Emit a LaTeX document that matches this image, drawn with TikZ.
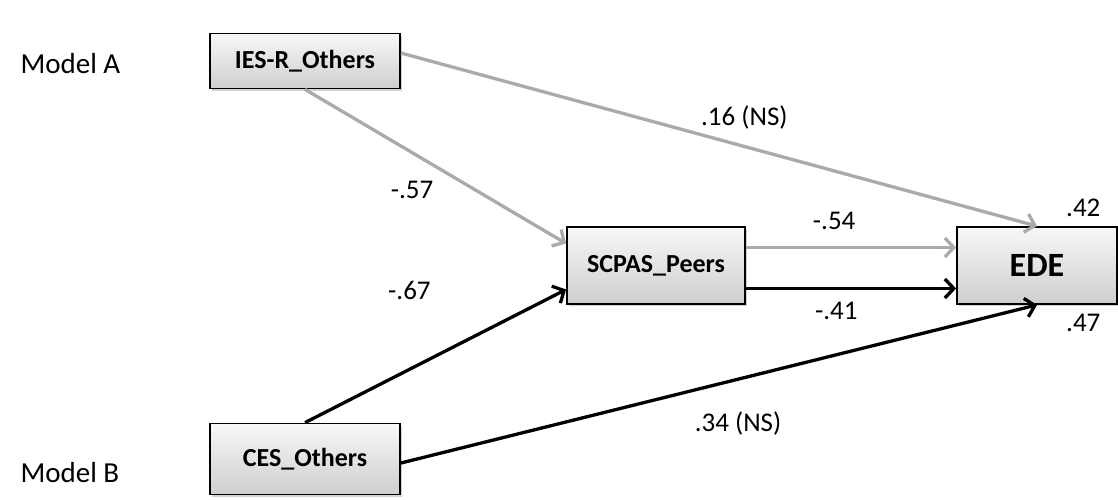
\documentclass[tikz,border=0pt]{standalone}
\usepackage{fontspec}
\setmainfont{Carlito}
\usetikzlibrary{arrows.meta, shadows, positioning}
\definecolor{pathgray}{RGB}{170,170,170}

\begin{document}
\begin{tikzpicture}[x=1pt, y=-1pt,
  var/.style={draw, line width=1.8pt, top color=gray!6, bottom color=gray!38,
    drop shadow={shadow xshift=2pt, shadow yshift=-2pt, opacity=.35},
    font=\fontsize{26}{30}\selectfont\bfseries, inner sep=0pt},
  modelA/.style={pathgray, line width=3.3pt, -{Straight Barb[length=9pt,width=19pt]}},
  modelB/.style={black, line width=3.3pt, -{Straight Barb[length=9pt,width=19pt]}},
  coef/.style={text=black, font=\fontsize{27}{30}\selectfont}]
\useasboundingbox (0,0) rectangle (1118,499);

\node[var, minimum width=190pt, minimum height=55pt] (ies) at (305,61) {IES-R\_Others};
\node[var, minimum width=190pt, minimum height=71pt] (ces) at (305,459) {CES\_Others};
\node[var, minimum width=178pt, minimum height=77pt] (scpas) at (656,265.5) {SCPAS\_Peers};
\node[var, minimum width=160pt, minimum height=77pt, font=\fontsize{34}{38}\selectfont\bfseries] (ede) at (1037,265.5) {EDE};

\node[font=\fontsize{29}{32}\selectfont, anchor=west] (lblA) at (17,64) {Model A};
\node[font=\fontsize{29}{32}\selectfont, anchor=west] (lblB) at (17,473) {Model B};

% model A paths
\draw[modelA] ([yshift=8pt]ies.east) -- (ede.north) node[coef, above=12pt, pos=.54]{.16 (NS)};
\draw[modelA] (ies.south) -- ([yshift=22pt]scpas.west) node[coef, below=24pt, pos=.41]{-.57};
\draw[modelA] ([yshift=18pt]scpas.east) -- ([yshift=18pt]ede.west) node[coef, above=13pt, pos=.42]{-.54};
% model B paths
\draw[modelB] ([yshift=-23pt]scpas.east) -- ([yshift=-23pt]ede.west) node[coef, below=9pt, pos=.43]{-.41};
\draw[modelB] (ces.north) -- ([yshift=-24pt]scpas.west) node[coef, above=65pt, pos=.4]{-.67};
\draw[modelB] ([yshift=-4pt]ces.east) -- (ede.south) node[coef, below=28pt, pos=.53]{.34 (NS)};

\node[coef, above left=6pt and 14pt of ede.north east] (r2A) {.42};
\node[coef, below left=6pt and 14pt of ede.south east] (r2B) {.47};
\end{tikzpicture}
\end{document}
